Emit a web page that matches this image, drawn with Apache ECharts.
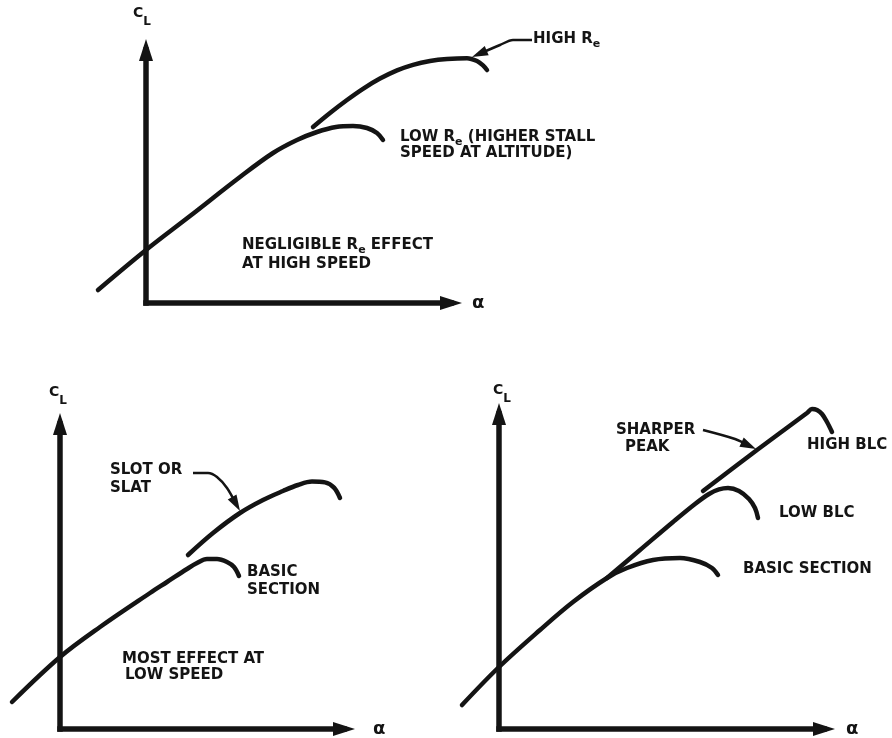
<!DOCTYPE html>
<html>
<head>
<meta charset="utf-8">
<style>
  html, body { margin: 0; padding: 0; background: #fff; }
  #chart { width: 892px; height: 738px; }
</style>
<script src="https://cdn.jsdelivr.net/npm/echarts@6/dist/echarts.min.js"></script>
</head>
<body>
<div id="chart"></div>
<script>
// [alpha, CL], arbitrary units (same scale on every panel)
// top panel: Reynolds number effect
const lowRe = [[-2.4, 0.65], [0, 2.65], [2.2, 4.35], [4.7, 6.3], [6.35, 7.5], [7.55, 8.15], [8.55, 8.55], [9.5, 8.8], [10.35, 8.85], [11.05, 8.75], [11.55, 8.5], [11.85, 8.15]];
const highRe = [[8.35, 8.8], [9.2, 9.5], [10.05, 10.15], [10.85, 10.71], [11.7, 11.22], [12.55, 11.63], [13.35, 11.91], [14.2, 12.1], [15.05, 12.2], [16.05, 12.24], [16.55, 12.1], [16.85, 11.88], [17.05, 11.65]];
// bottom left: slot / slat
const basicSlot = [[-2.4, 1.4], [0, 3.65], [2.0, 5.15], [4.5, 6.85], [5.35, 7.4], [6.35, 8.05], [6.85, 8.35], [7.35, 8.55], [7.85, 8.55], [8.35, 8.4], [8.7, 8.15], [8.95, 7.7]];
const slotSlat = [[6.4, 8.75], [7.65, 9.85], [9.0, 10.85], [10.15, 11.5], [11.15, 11.95], [11.9, 12.25], [12.6, 12.42], [13.25, 12.38], [13.7, 12.12], [14.0, 11.6]];
// bottom right: boundary layer control
const basicBlc = [[-1.85, 1.3], [0, 3.2], [2.05, 5.05], [3.7, 6.45], [5.4, 7.65], [6.4, 8.15], [7.7, 8.55], [9.05, 8.65], [10.05, 8.45], [10.65, 8.15], [10.95, 7.8]];
const lowBlc = [[5.4, 7.65], [7.05, 9.05], [8.7, 10.45], [9.8, 11.35], [10.5, 11.85], [11.0, 12.08], [11.45, 12.15], [12.0, 12.0], [12.5, 11.6], [12.8, 11.15], [12.95, 10.65]];
const highBlc = [[10.2, 12.0], [12.9, 14.05], [15.4, 15.9], [15.65, 16.1], [15.9, 16.05], [16.15, 15.85], [16.4, 15.45], [16.65, 14.95]];

// visible axis extents per panel: [alpha max, CL max]
const axisMax = [[15.25, 12.65], [14.2, 15.3], [16.25, 15.85]];
// plotting range per panel (reaches past the drawn axes): [[alpha min, max], [CL min, max]]
const plotRange = [[[-3, 20], [0, 14]], [[-3, 15], [0, 14]], [[-3, 17], [0, 17]]];

// pointer arrows, last point is the tip
const arrowHighRe = [[19.3, 13.15], [18.35, 13.15], [17.7, 12.9], [16.3, 12.3]];
const arrowSlot = [[6.65, 12.85], [7.4, 12.85], [7.85, 12.65], [8.35, 12.1], [9.0, 10.95]];
const arrowSharper = [[10.2, 15.05], [11.8, 14.6], [12.85, 14.1]];

// text notes: [text, left, middle y]   (_e = subscript e)
const notes = [
  ['HIGH R_e', 533, 40],
  ['LOW R_e (HIGHER STALL', 400, 137.5],
  ['SPEED AT ALTITUDE)', 400, 154],
  ['NEGLIGIBLE R_e EFFECT', 242, 245.5],
  ['AT HIGH SPEED', 242, 265],
  ['SLOT OR', 110, 471],
  ['SLAT', 110, 488.5],
  ['BASIC', 247, 572.5],
  ['SECTION', 247, 590.5],
  ['MOST EFFECT AT', 122, 660],
  ['LOW SPEED', 125, 676],
  ['SHARPER', 616, 431],
  ['PEAK', 625, 447.5],
  ['HIGH BLC', 807, 445.5],
  ['LOW BLC', 779, 514],
  ['BASIC SECTION', 743, 570]
];

const INK = '#141414';
const FONT = 'DejaVu Sans';
const PX = 20;            // pixels per unit
const HEAD = [10, 16];    // pointer arrow head

// grids holding the drawn axes (origin = bottom-left corner)
const axisGrids = [
  {left: 146, top: 50, width: 305, height: 253},
  {left: 60, top: 424, width: 284, height: 306},
  {left: 499, top: 414, width: 325, height: 317}
];
// matching grids with the same scale for the curves
const plotGrids = axisGrids.map((g, i) => {
  const r = plotRange[i], y0 = g.top + g.height;
  return {
    left: g.left + r[0][0] * PX, width: (r[0][1] - r[0][0]) * PX,
    top: y0 - r[1][1] * PX, height: (r[1][1] - r[1][0]) * PX
  };
});

const alphaGap = [21, 29, 22];
const alphaPad = [[0, 0, 12, 0], [0, 0, 0, 0], [0, 0, 6, 0]];
const clGap = [22, 17, 9];
const clPad = [[0, 8, 0, 0], [0, 4, 0, 0], [0, 0, 0, 6]];

const axisLine = {
  symbol: ['none', 'triangle'],
  symbolSize: [14, 22],
  lineStyle: {color: INK, width: 5.5, cap: 'square'}
};
const hidden = {show: false};

const P = axisGrids.length;

const curve = (i, data) => ({
  type: 'line', xAxisIndex: P + i, yAxisIndex: P + i, data: data,
  smooth: 0.35, symbol: 'none', silent: true,
  lineStyle: {color: INK, width: 4.5, cap: 'round'}
});

function pointer(i, pts) {
  const a = pts[pts.length - 2], b = pts[pts.length - 1];
  const dx = b[0] - a[0], dy = b[1] - a[1], len = Math.hypot(dx, dy);
  const back = HEAD[1] / 2 / PX;
  const c = [b[0] - dx / len * back, b[1] - dy / len * back];
  const rot = Math.atan2(dy, dx) * 180 / Math.PI - 90;
  return {
    type: 'line', xAxisIndex: P + i, yAxisIndex: P + i, silent: true,
    smooth: 0.3, symbol: 'none', color: INK,
    itemStyle: {color: INK},
    lineStyle: {color: INK, width: 2.5},
    data: pts.slice(0, -1).concat([{value: c, symbol: 'triangle', symbolSize: HEAD, symbolRotate: rot}])
  };
}

const rt = s => s.split('_e').map(p => p ? '{n|' + p + '}' : '').join('{s|e}');

const myChart = echarts.init(document.getElementById('chart'));

const option = {
  animation: false,
  backgroundColor: '#fff',
  grid: axisGrids.concat(plotGrids),
  xAxis: axisGrids.map((g, i) => ({
    gridIndex: i, type: 'value', min: 0, max: axisMax[i][0],
    axisLine: axisLine, axisTick: hidden, axisLabel: hidden, splitLine: hidden,
    name: 'α', nameLocation: 'end', nameGap: alphaGap[i],
    nameTextStyle: {color: INK, fontFamily: FONT, fontWeight: 'bold', fontSize: 18, padding: alphaPad[i]}
  })).concat(plotRange.map((r, i) => ({
    gridIndex: P + i, type: 'value', show: false, min: r[0][0], max: r[0][1]
  }))),
  yAxis: axisGrids.map((g, i) => ({
    gridIndex: i, type: 'value', min: 0, max: axisMax[i][1],
    axisLine: axisLine, axisTick: hidden, axisLabel: hidden, splitLine: hidden,
    name: '{c|C}{l|L}', nameLocation: 'end', nameGap: clGap[i],
    nameTextStyle: {
      padding: clPad[i],
      rich: {
        c: {color: INK, fontFamily: FONT, fontWeight: 'bold', fontSize: 14, lineHeight: 14, verticalAlign: 'top'},
        l: {color: INK, fontFamily: FONT, fontWeight: 'bold', fontSize: 12, lineHeight: 22, verticalAlign: 'bottom'}
      }
    }
  })).concat(plotRange.map((r, i) => ({
    gridIndex: P + i, type: 'value', show: false, min: r[1][0], max: r[1][1]
  }))),
  series: [
    curve(0, lowRe), curve(0, highRe),
    curve(1, basicSlot), curve(1, slotSlat),
    curve(2, basicBlc), curve(2, lowBlc), curve(2, highBlc),
    pointer(0, arrowHighRe), pointer(1, arrowSlot), pointer(2, arrowSharper)
  ],
  graphic: notes.map(n => ({
    type: 'text', x: n[1], y: n[2] - 8, silent: true,
    style: {
      text: rt(n[0]), fill: INK,
      rich: {
        n: {fill: INK, fontFamily: FONT, fontWeight: 'bold', fontSize: 15, lineHeight: 16, verticalAlign: 'top'},
        s: {fill: INK, fontFamily: FONT, fontWeight: 'bold', fontSize: 11, lineHeight: 18, verticalAlign: 'bottom'}
      }
    }
  }))
};

option && myChart.setOption(option);
</script>
</body>
</html>
